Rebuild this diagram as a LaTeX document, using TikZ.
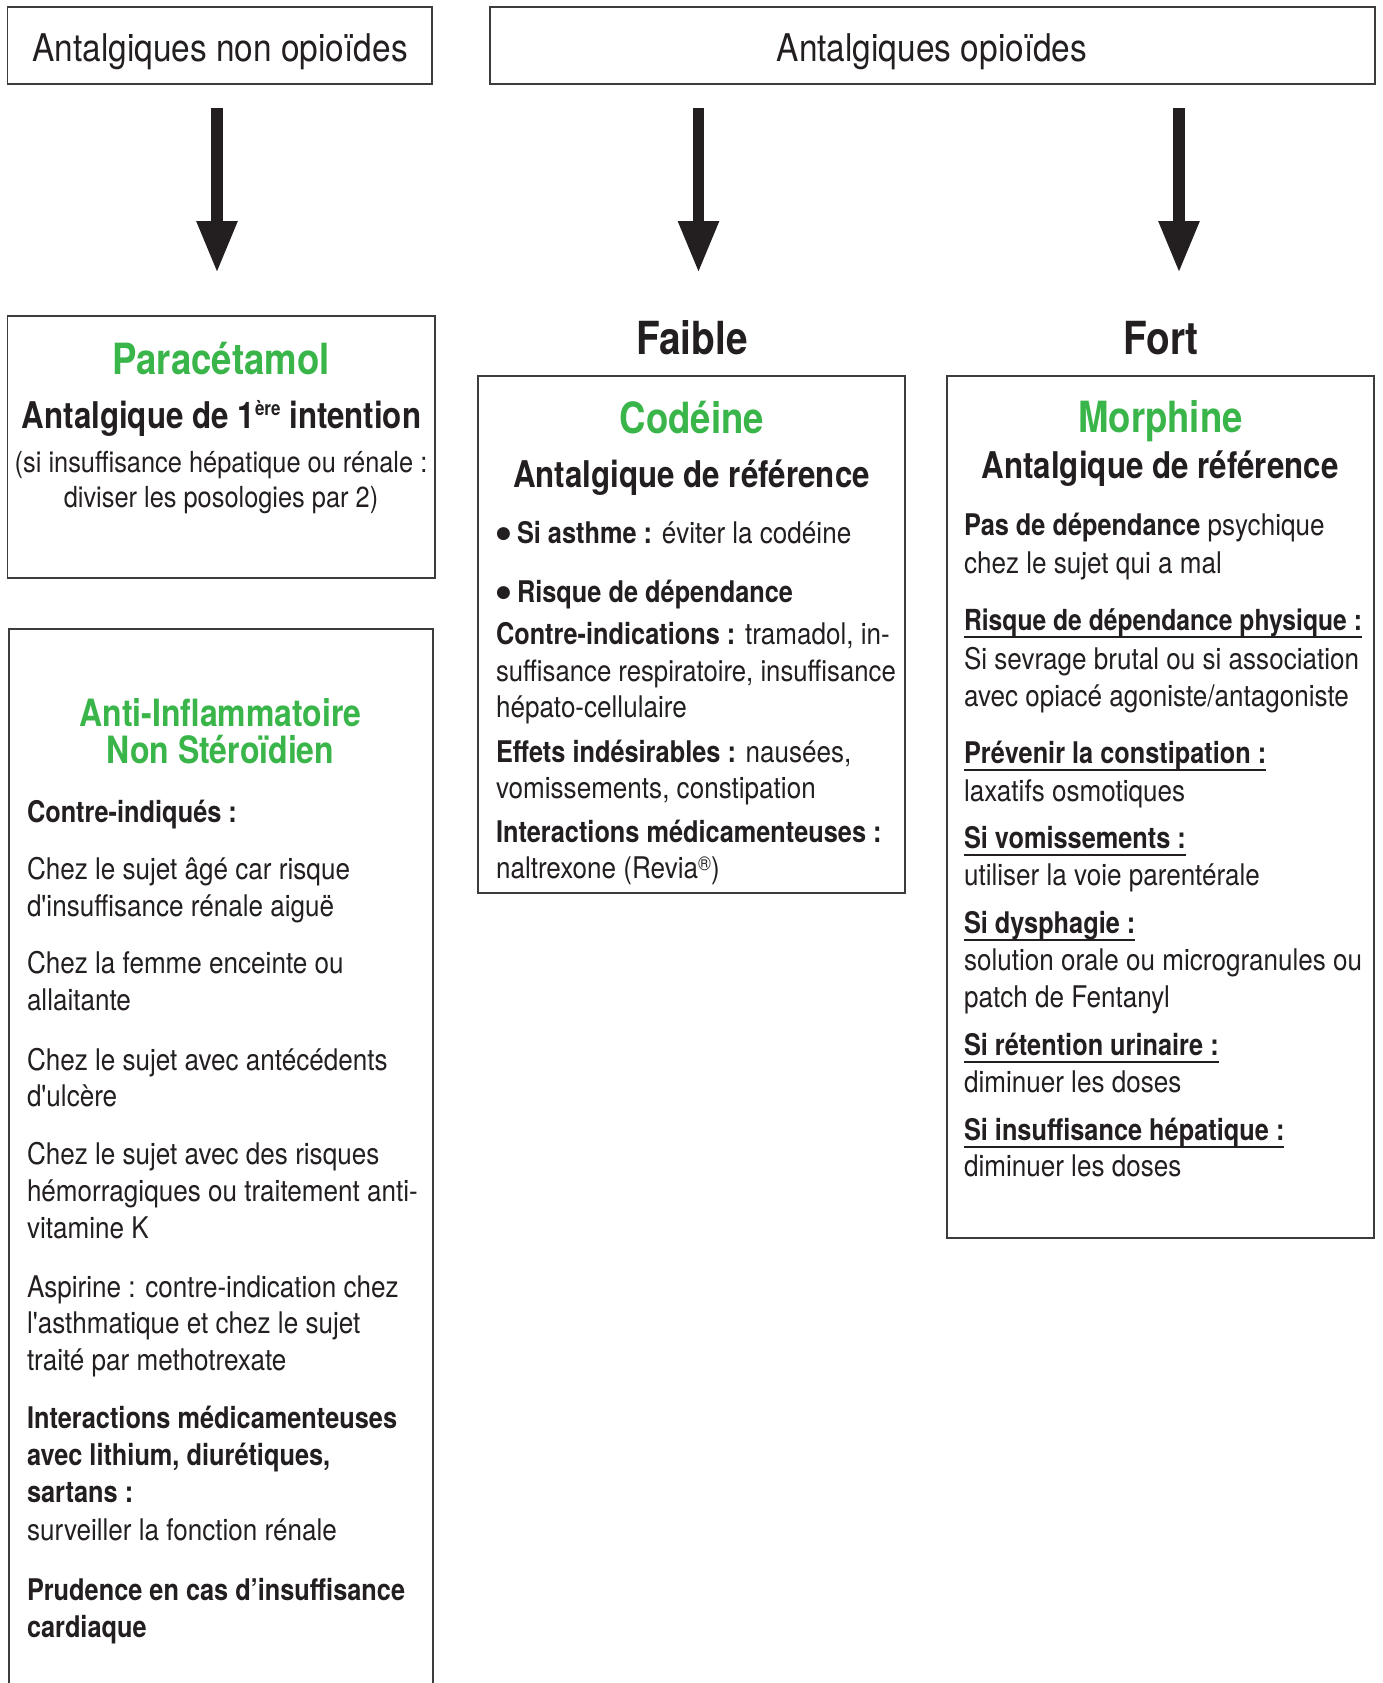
\documentclass[tikz,border=0pt]{standalone}
\usepackage{fontspec}
\newfontfamily\hv{TeX Gyre Heros}[FakeStretch=0.875]
\newfontfamily\hvb{TeX Gyre Heros Bold}[FakeStretch=0.85]
\newfontfamily\djv{DejaVu Sans}
\usetikzlibrary{arrows.meta}
\definecolor{ink}{RGB}{35,31,32}
\definecolor{grn}{RGB}{57,181,74}
\definecolor{frame}{RGB}{60,60,60}
\newcommand\ftitle{\hv\fontsize{38.2bp}{44bp}\selectfont}
\newcommand\fgreen{\hvb\fontsize{43bp}{48bp}\selectfont}
\newcommand\fgrad{\hvb\fontsize{45.6bp}{50bp}\selectfont}
\newcommand\fsub{\hvb\fontsize{36.8bp}{40bp}\selectfont}
\newcommand\fains{\hvb\fontsize{37.6bp}{40bp}\selectfont}
\newcommand\fbody{\hv\fontsize{29.8bp}{36bp}\selectfont}
\newcommand\fpara{\hv\fontsize{29bp}{36bp}\selectfont}
\newcommand\bfx[1]{{\hvb #1}}
\newcommand\ulx[1]{\setbox0\hbox{#1}\rlap{\rule[-7.7bp]{\wd0}{2bp}}\box0}
\newcommand\supx[1]{\raisebox{13bp}{\fontsize{20bp}{20bp}\selectfont #1}}
\newcommand\regx{\raisebox{8bp}{\fontsize{20bp}{20bp}\selectfont ®}}
\newcommand\bul{\makebox[21bp][l]{\raisebox{4.5bp}{\djv\fontsize{17bp}{17bp}\selectfont ●}}}
\begin{document}
\begin{tikzpicture}[x=1bp,y=-1bp,
  every node/.style={inner sep=0pt,outer sep=0pt,text=ink},
  frm/.style={draw=frame,line width=1.5bp,rectangle,anchor=north west,inner sep=0pt},
  ctr/.style={anchor=base},
  lft/.style={anchor=base west,font=\fbody},
  bigarrow/.style={draw=ink,line width=11.5bp,-{Triangle[width=38bp,length=52bp]}}]
\clip (0,0) rectangle (1383,1683);
\fill[white] (0,0) rectangle (1383,1683);
% frames
\node[frm,minimum width=424.5bp,minimum height=77bp] (b1) at (7.5,7) {};
\node[frm,minimum width=885bp,minimum height=77bp] (b2) at (490,7) {};
\node[frm,minimum width=427.5bp,minimum height=262bp] (bpara) at (7.5,316) {};
\node[frm,minimum width=424bp,minimum height=1080bp] (bains) at (9,629) {};
\node[frm,minimum width=427bp,minimum height=517bp] (bcod) at (478,376) {};
\node[frm,minimum width=427bp,minimum height=862bp] (bmor) at (947,376) {};
% arrows
\coordinate (a1s) at (217,108); \coordinate (a1e) at (217,273);
\coordinate (a2s) at (698.5,108); \coordinate (a2e) at (698.5,273);
\coordinate (a3s) at (1179,108); \coordinate (a3e) at (1179,273);
\draw[bigarrow] (a1s) -- (a1e);
\draw[bigarrow] (a2s) -- (a2e);
\draw[bigarrow] (a3s) -- (a3e);
% titles
\node[ctr,font=\ftitle] (t1) at (220,62) {Antalgiques non opioïdes};
\node[ctr,font=\ftitle] (t2) at (932,62) {Antalgiques opioïdes};
\node[ctr,font=\fgrad] (faible) at (692,354) {Faible};
\node[ctr,font=\fgrad] (fort) at (1161,354) {Fort};
% paracetamol
\node[ctr,font=\fgreen,text=grn] (p1) at (221,374) {Paracétamol};
\node[ctr,font=\fsub] (p2) at (221.5,428) {Antalgique de 1\supx{ère} intention};
\node[ctr,font=\fpara] (p3) at (221,472) {(si insuffisance hépatique ou rénale :};
\node[ctr,font=\fpara] (p4) at (221,507) {diviser les posologies par 2)};
% codeine
\node[ctr,font=\fgreen,text=grn] (c1) at (692,433) {Codéine};
\node[ctr,font=\fsub] (c2) at (691.5,487) {Antalgique de référence};
\node[lft] (c3) at (496,543) {\bul\bfx{Si asthme :} éviter la codéine};
\node[lft] (c4) at (496,602) {\bul\bfx{Risque de dépendance}};
\node[lft] (c5) at (496,644) {\bfx{Contre-indications :} tramadol, in-};
\node[lft,font=\hv\fontsize{29.4bp}{36bp}\selectfont] (c6) at (496,681) {suffisance respiratoire, insuffisance};
\node[lft] (c7) at (496,717) {hépato-cellulaire};
\node[lft] (c8) at (496,762) {\bfx{Effets indésirables :} nausées,};
\node[lft] (c9) at (496,798) {vomissements, constipation};
\node[lft] (c10) at (496,842) {\bfx{Interactions médicamenteuses :}};
\node[lft] (c11) at (496,878) {naltrexone (Revia\regx)};
% morphine
\node[ctr,font=\fgreen,text=grn] (m1) at (1160.5,432) {Morphine};
\node[ctr,font=\fsub] (m2) at (1160,478) {Antalgique de référence};
\node[lft] (m3) at (964,535) {\bfx{Pas de dépendance} psychique};
\node[lft] (m4) at (964,573) {chez le sujet qui a mal};
\node[lft] (m5) at (964,630) {\bfx{\fontsize{29bp}{36bp}\selectfont\ulx{Risque de dépendance physique :}}};
\node[lft] (m6) at (964,669) {Si sevrage brutal ou si association};
\node[lft] (m7) at (964,706) {avec opiacé agoniste/antagoniste};
\node[lft] (m8) at (964,763) {\bfx{\ulx{Prévenir la constipation :}}};
\node[lft] (m9) at (964,801) {laxatifs osmotiques};
\node[lft] (m10) at (964,848) {\bfx{\ulx{Si vomissements :}}};
\node[lft] (m11) at (964,885) {utiliser la voie parentérale};
\node[lft] (m12) at (964,933) {\bfx{\ulx{Si dysphagie :}}};
\node[lft] (m13) at (964,970) {solution orale ou microgranules ou};
\node[lft] (m14) at (964,1007) {patch de Fentanyl};
\node[lft] (m15) at (964,1055) {\bfx{\ulx{Si rétention urinaire :}}};
\node[lft] (m16) at (964,1092) {diminuer les doses};
\node[lft] (m17) at (964,1140) {\bfx{\ulx{Si insuffisance hépatique :}}};
\node[lft] (m18) at (964,1176) {diminuer les doses};
% AINS
\node[ctr,font=\fains,text=grn] (n1) at (220.5,726) {Anti-Inflammatoire};
\node[ctr,font=\fains,text=grn] (n2) at (220.5,763) {Non Stéroïdien};
\node[lft] (n3) at (27,822) {\bfx{Contre-indiqués :}};
\node[lft] (n4) at (27,879) {Chez le sujet âgé car risque};
\node[lft] (n5) at (27,916) {d'insuffisance rénale aiguë};
\node[lft] (n6) at (27,973) {Chez la femme enceinte ou};
\node[lft] (n7) at (27,1010) {allaitante};
\node[lft] (n8) at (27,1070) {Chez le sujet avec antécédents};
\node[lft] (n9) at (27,1106) {d'ulcère};
\node[lft] (n10) at (27,1164) {Chez le sujet avec des risques};
\node[lft] (n11) at (27,1201) {hémorragiques ou traitement anti-};
\node[lft] (n12) at (27,1238) {vitamine K};
\node[lft] (n13) at (27,1297) {Aspirine : contre-indication chez};
\node[lft] (n14) at (27,1333) {l'asthmatique et chez le sujet};
\node[lft] (n15) at (27,1370) {traité par methotrexate};
\node[lft] (n16) at (27,1428) {\bfx{Interactions médicamenteuses}};
\node[lft] (n17) at (27,1465) {\bfx{avec lithium, diurétiques,}};
\node[lft] (n18) at (27,1502) {\bfx{sartans :}};
\node[lft] (n19) at (27,1540) {surveiller la fonction rénale};
\node[lft] (n20) at (27,1600) {\bfx{Prudence en cas d’insuffisance}};
\node[lft] (n21) at (27,1637) {\bfx{cardiaque}};
\end{tikzpicture}
\end{document}
